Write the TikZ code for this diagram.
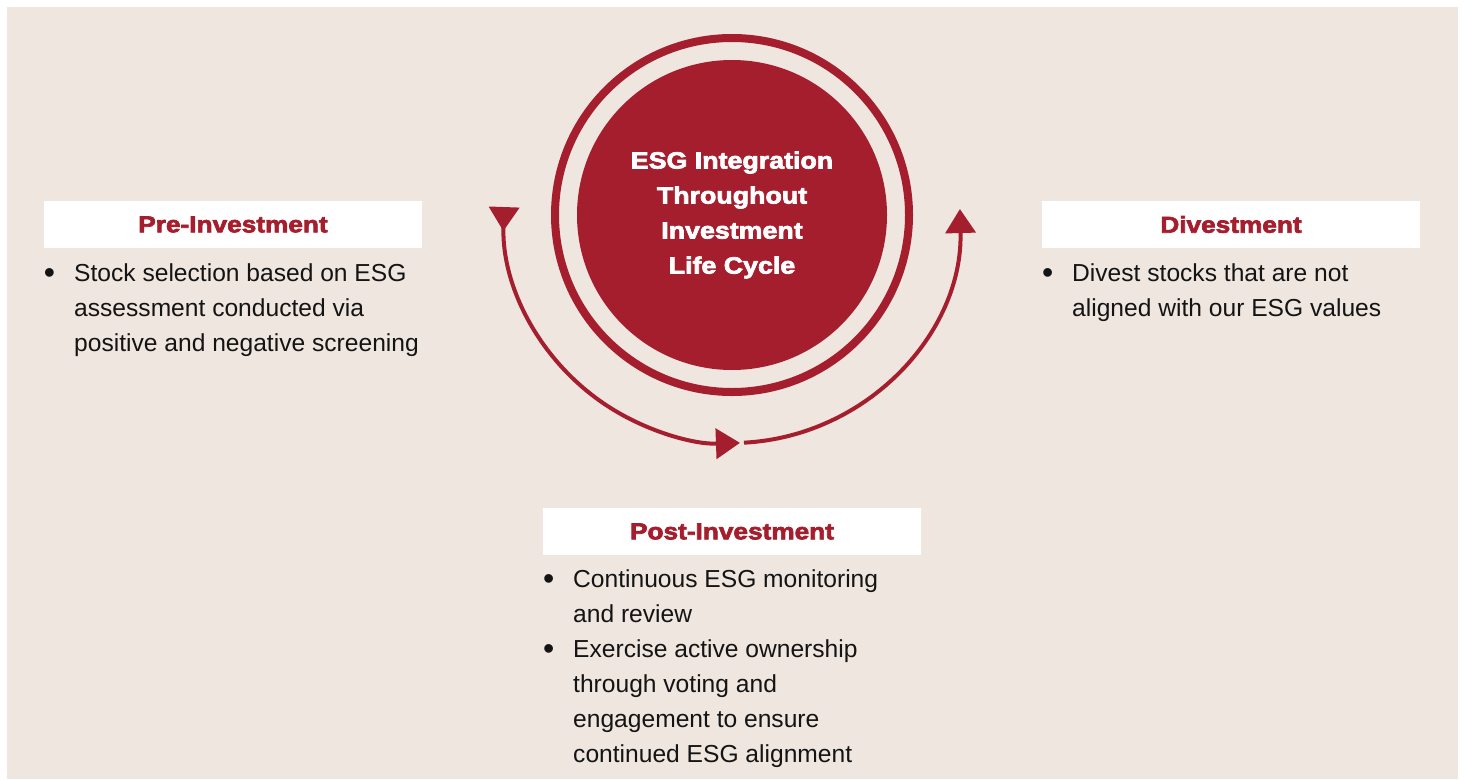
\documentclass[tikz,border=0pt]{standalone}
\usepackage{fontspec}
\setmainfont{Liberation Sans}
\newfontfamily\heavyfont[FakeBold=3,FakeStretch=1.14]{Liberation Sans Bold}
\usetikzlibrary{arrows.meta}

\definecolor{esgred}{HTML}{A51E2D}
\definecolor{sandbg}{HTML}{EFE6E0}
\definecolor{bodytext}{HTML}{141414}

\newcommand{\stagebullet}{\llap{\raisebox{-2pt}{\fontsize{32}{32}\selectfont\textbullet}\hspace{19pt}}}

\tikzset{
  stagebox/.style={fill=white, minimum width=378pt, minimum height=47pt, inner sep=0pt,
    text=esgred, font=\heavyfont\fontsize{23}{26}\selectfont},
  bullettext/.style={anchor=north west, inner sep=0pt, align=left, text=bodytext,
    font=\fontsize{24.6}{35}\selectfont},
  cyclearrow/.style={draw=esgred, line width=4pt},
  cyclehead/.tip={Triangle[length=24pt,width=30pt]},
}

\begin{document}
\begin{tikzpicture}[x=1pt,y=-1pt]
    % Background
    \useasboundingbox (0,0) rectangle (1471,779);
    \fill[sandbg] (7,7) rectangle (1458,779);
    % Centre circle and ring
    \node[circle, fill=esgred, minimum size=310pt, inner sep=0pt, align=center, text=white,
      font=\heavyfont\fontsize{23.5}{35}\selectfont] (hub) at (732,215)
      {ESG Integration\\Throughout\\Investment\\Life Cycle};
    \draw[esgred, line width=8pt] (hub.center) circle[radius=177];
    % Cycle arrows
    \draw[cyclearrow, {cyclehead[reversed]}-{cyclehead}] (hub.center) ++(182:228)
      arc[start angle=182, end angle=88, radius=228];
    \draw[cyclearrow, -{cyclehead}] (hub.center) ++(87:228)
      arc[start angle=87, end angle=-1.5, radius=228];
    % Stage headings
    \node[stagebox] (pre) at (233,224.5) {Pre-Investment};
    \node[stagebox] (post) at (732,531.5) {Post-Investment};
    \node[stagebox] (divest) at (1231,224.5) {Divestment};
    % Bullet lists
    \node[bullettext] (prelist) at (74,263)
      {\stagebullet Stock selection based on ESG\\assessment conducted via\\positive and negative screening};
    \node[bullettext] (postlist) at (573,569)
      {\stagebullet Continuous ESG monitoring\\and review\\
       \stagebullet Exercise active ownership\\through voting and\\engagement to ensure\\continued ESG alignment};
    \node[bullettext] (divestlist) at (1072,263)
      {\stagebullet Divest stocks that are not\\aligned with our ESG values};
\end{tikzpicture}
\end{document}
